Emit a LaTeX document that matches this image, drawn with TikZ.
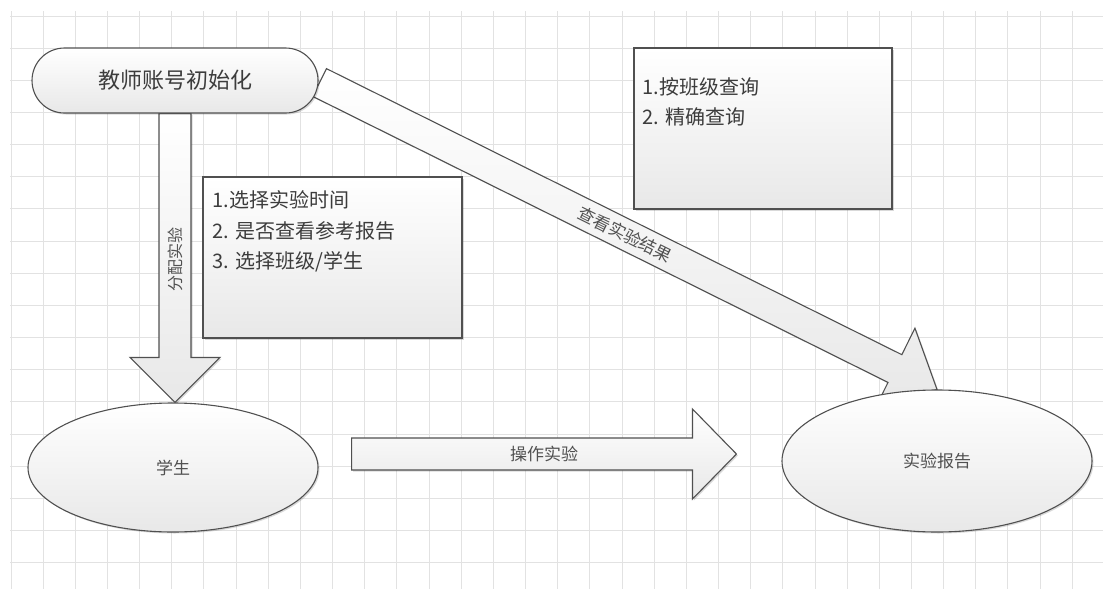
\documentclass[tikz,border=0pt]{standalone}
\usepackage{fontspec}
\newfontfamily\cjk{Noto Sans CJK SC}
\usetikzlibrary{calc,shadows,shapes.geometric}
\pgfdeclarelayer{background}
\pgfdeclarelayer{arrowlayer}
\pgfsetlayers{background,arrowlayer,main}
\definecolor{edgec}{HTML}{505050}
\definecolor{txtc}{HTML}{3C3C3C}
\definecolor{lblc}{HTML}{505050}
\definecolor{gridc}{HTML}{E2E2E2}
\definecolor{fillbot}{HTML}{E8E8E8}
\tikzset{
  gridline/.style={draw=gridc, line width=1pt},
  softshadow/.style={drop shadow={shadow xshift=1.5pt, shadow yshift=-1.5pt, opacity=0.15, fill=black}},
  shapefill/.style={top color=white, bottom color=fillbot, draw=edgec, line width=1.1pt},
  termbox/.style={shapefill, softshadow, rectangle, rounded corners=32.5pt, minimum width=286pt, minimum height=65pt, inner sep=0pt,
    text=txtc, font=\cjk\fontsize{22}{26}\selectfont},
  ovalnode/.style={shapefill, softshadow, ellipse, inner sep=0pt, text=lblc, font=\cjk\fontsize{17}{20}\selectfont},
  notebox/.style={shapefill, softshadow, rectangle, inner sep=0pt},
  noteline/.style={anchor=west, inner sep=0pt, text=txtc, font=\cjk\fontsize{20}{24}\selectfont},
  arrowbox/.style={shapefill, softshadow, line join=miter},
  arrowlabel/.style={inner sep=0pt, text=lblc, font=\cjk\fontsize{17}{20}\selectfont},
}
% #1 start coordinate, #2 end (tip) coordinate, #3 shaft half width, #4 head half width, #5 head length
\newcommand{\myblockarrow}[5]{%
  \coordinate (#1base) at ($(#2)!#5!(#1)$);
  \draw[arrowbox] ($(#1)!#3!90:(#2)$) -- ($(#1base)!#3!90:(#2)$) -- ($(#1base)!#4!90:(#2)$) -- (#2)
    -- ($(#1base)!#4!-90:(#2)$) -- ($(#1base)!#3!-90:(#2)$) -- ($(#1)!#3!-90:(#2)$) -- cycle;
}
\begin{document}
\begin{tikzpicture}[x=1pt, y=-1pt]
\useasboundingbox (0,0) rectangle (1103,589);
\begin{pgfonlayer}{background}
  \fill[white] (0,0) rectangle (1103,589);
  \foreach \i in {0,...,33} {\draw[gridline] ({11+32.16*\i},11) -- ({11+32.16*\i},589);}
  \foreach \j in {0,...,17} {\draw[gridline] (10,{16+32.16*\j}) -- (1103,{16+32.16*\j});}
\end{pgfonlayer}

% main nodes
\node[termbox] (teacher) at (175,80.5) {教师账号初始化};
\node[ovalnode, minimum width=290pt, minimum height=129pt] (student) at (173,467.5) {学生};
\node[ovalnode, minimum width=310pt, minimum height=142pt] (report) at (937,461) {实验报告};

\node[notebox, minimum width=259pt, minimum height=161pt] (box1) at (332.5,257.5) {};
\node[noteline] (b1l1) at ($(box1.north west)+(10,23)$) {1.选择实验时间};
\node[noteline] (b1l2) at ($(box1.north west)+(10,54)$) {2. 是否查看参考报告};
\node[noteline] (b1l3) at ($(box1.north west)+(10,85)$) {3. 选择班级/学生};

\node[notebox, minimum width=258pt, minimum height=161pt] (box2) at (763,128.5) {};
\node[noteline] (b2l1) at ($(box2.north west)+(9,39)$) {1.按班级查询};
\node[noteline] (b2l2) at ($(box2.north west)+(9,69)$) {2. 精确查询};

% arrow end points
\coordinate (aone) at (teacher.south);
\coordinate (aoneend) at (teacher.south |- student.north);
\coordinate (atwo) at ($(teacher.east)+(1,2)$);
\coordinate (atwoend) at (report.north);
\coordinate (athree) at ($(student.east)+(33,-13.5)$);
\coordinate (athreeend) at ($(report.west)+(-45,-7)$);

\begin{pgfonlayer}{arrowlayer}
  \myblockarrow{aone}{aoneend}{16pt}{45pt}{45pt}
  \myblockarrow{atwo}{atwoend}{15.5pt}{45pt}{47pt}
  \myblockarrow{athree}{athreeend}{16pt}{45pt}{44pt}
\end{pgfonlayer}

% arrow labels
\path (aone) -- (aoneend) node[arrowlabel, pos=0.505, rotate=90, font=\cjk\fontsize{16}{19}\selectfont] (lone) {分配实验};
\path (atwo) -- (atwoend) node[arrowlabel, pos=0.495, sloped] (ltwo) {查看实验结果};
\path (athree) -- (athreeend) node[arrowlabel, pos=0.5] (lthree) {操作实验};
\end{tikzpicture}
\end{document}
